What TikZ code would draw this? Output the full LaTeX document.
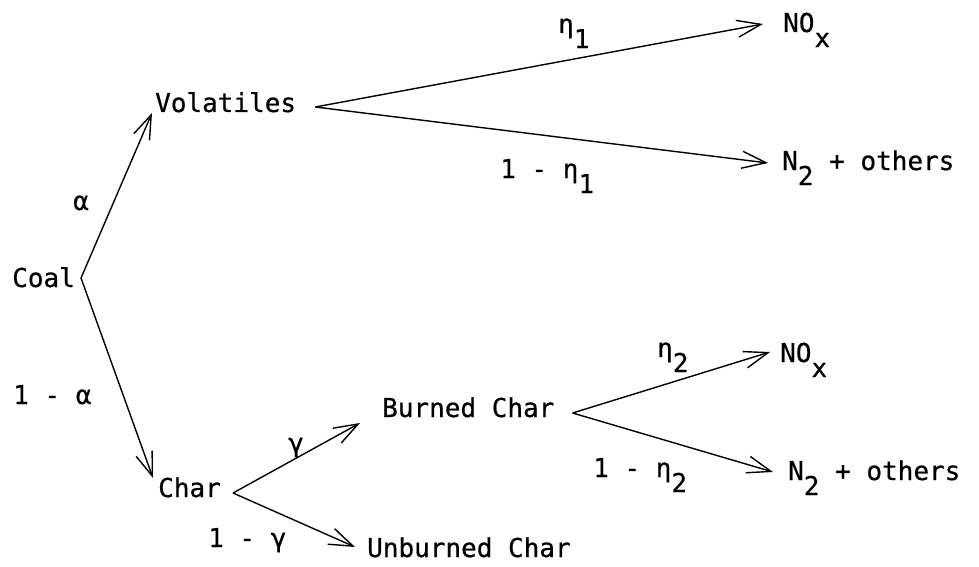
\documentclass[tikz,border=0pt]{standalone}
\usepackage{fontspec}
\setmonofont[FakeBold=0.6]{DejaVu Sans Mono}
\usepackage{tikz}
\usetikzlibrary{arrows.meta}
\newcommand{\low}[1]{\raisebox{-0.58em}{#1}}

\begin{document}
\begin{tikzpicture}[
    x=1pt, y=-1pt,
    txt/.style={font=\ttfamily\fontsize{26}{30}\selectfont,
                inner sep=0pt, anchor=base west},
    arr/.style={-{Straight Barb[length=24pt,width=17pt]}, line width=1.4pt}
  ]
  \useasboundingbox (0,0) rectangle (979,567);
  \node[txt] (coal)     at (12,287)  {Coal};
  \node[txt] (vol)      at (155,112) {Volatiles};
  \node[txt] (nox1)     at (783,32)  {NO\low{x}};
  \node[txt] (ntwo1)    at (782,170) {N\low{2} + others};
  \node[txt] (char)     at (158,497) {Char};
  \node[txt] (burned)   at (382,417) {Burned Char};
  \node[txt] (unburned) at (367,557) {Unburned Char};
  \node[txt] (nox2)     at (780,362) {NO\low{x}};
  \node[txt] (ntwo2)    at (788,480) {N\low{2} + others};
  \node[txt] (alpha)    at (73,210)  {α};
  \node[txt] (nalpha)   at (13,404)  {1 - α};
  \node[txt] (eta1)     at (558,33)  {η\low{1}};
  \node[txt] (neta1)    at (500,178) {1 - η\low{1}};
  \node[txt] (gam)      at (288,452) {γ};
  \node[txt] (ngam)     at (208,547) {1 - γ};
  \node[txt] (eta2)     at (657,357) {η\low{2}};
  \node[txt] (neta2)    at (593,477) {1 - η\low{2}};
  \draw[arr] ([shift={(6pt,9pt)}]coal.base east)    -- ([shift={(-3pt,-1pt)}]vol.base west);
  \draw[arr] ([shift={(6pt,9pt)}]coal.base east)    -- ([shift={(-5pt,19pt)}]char.base west);
  \draw[arr] ([shift={(19pt,5pt)}]vol.base east)    -- ([shift={(-20pt,8pt)}]nox1.base west);
  \draw[arr] ([shift={(19pt,5pt)}]vol.base east)    -- ([shift={(-14pt,7pt)}]ntwo1.base west);
  \draw[arr] ([shift={(12pt,4pt)}]char.base east)   -- ([shift={(-22pt,-6pt)}]burned.base west);
  \draw[arr] ([shift={(12pt,4pt)}]char.base east)   -- ([shift={(-12pt,10pt)}]unburned.base west);
  \draw[arr] ([shift={(18pt,4pt)}]burned.base east) -- ([shift={(-10pt,10pt)}]nox2.base west);
  \draw[arr] ([shift={(18pt,4pt)}]burned.base east) -- ([shift={(-15pt,8pt)}]ntwo2.base west);
\end{tikzpicture}
\end{document}
